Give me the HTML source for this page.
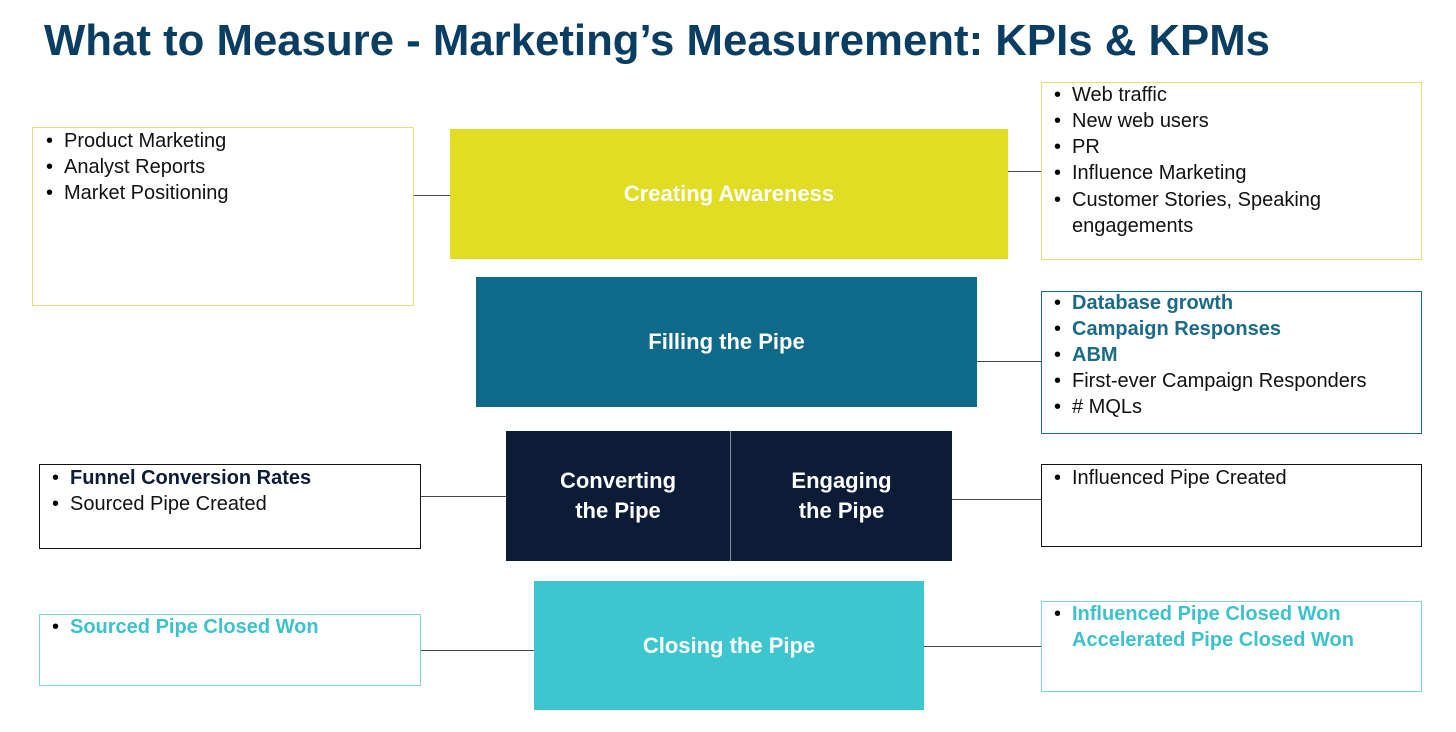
<!DOCTYPE html>
<html><head><meta charset="utf-8"><style>
body{margin:0;width:1456px;height:732px;background:#fff;position:relative;overflow:hidden;font-family:"Liberation Sans",sans-serif}
.a{position:absolute;box-sizing:border-box}
.blk{color:#fff;font-weight:bold;font-size:22px;display:flex;align-items:center;justify-content:center;text-align:center;line-height:30px}
.bx{background:#fff}
.ln{position:absolute;font-size:20px;line-height:26px;white-space:nowrap;color:#111}
.ln b.d{position:absolute;left:-18px;font-weight:normal;color:#000}
.h{position:absolute;height:1px;background:#444}
</style></head><body>
<svg class="a" style="left:0;top:0" width="1456" height="80"><text x="44" y="55" font-family="Liberation Sans" font-weight="bold" font-size="44" fill="#0a3d62" textLength="1226" lengthAdjust="spacingAndGlyphs">What to Measure - Marketing’s Measurement: KPIs &amp; KPMs</text></svg>

<!-- connectors -->
<div class="h" style="left:414px;top:195px;width:36px"></div>
<div class="h" style="left:1008px;top:171px;width:33px"></div>
<div class="h" style="left:977px;top:361px;width:64px"></div>
<div class="h" style="left:421px;top:496px;width:85px"></div>
<div class="h" style="left:952px;top:499px;width:89px"></div>
<div class="h" style="left:421px;top:650px;width:113px"></div>
<div class="h" style="left:924px;top:646px;width:117px"></div>

<!-- blocks -->
<div class="a blk" style="left:450px;top:129px;width:558px;height:130px;background:#e0dd24">Creating Awareness</div>
<div class="a blk" style="left:476px;top:277px;width:501px;height:130px;background:#0f6a8a">Filling the Pipe</div>
<div class="a blk" style="left:506px;top:431px;width:224px;height:130px;background:#0c1c36">Converting<br>the Pipe</div>
<div class="a blk" style="left:730px;top:431px;width:222px;height:130px;background:#0c1c36;border-left:1px solid #889">Engaging<br>the Pipe</div>
<div class="a blk" style="left:534px;top:581px;width:390px;height:129px;background:#3cc6cf">Closing the Pipe</div>

<!-- L1 -->
<div class="a bx" style="left:32px;top:127px;width:382px;height:179px;border:1px solid #e3e07a"></div>
<div class="ln" style="left:64px;top:128px"><b class="d">•</b>Product Marketing</div>
<div class="ln" style="left:64px;top:154px"><b class="d">•</b>Analyst Reports</div>
<div class="ln" style="left:64px;top:180px"><b class="d">•</b>Market Positioning</div>

<!-- R1 -->
<div class="a bx" style="left:1041px;top:82px;width:381px;height:178px;border:1px solid #e3e07a"></div>
<div class="ln" style="left:1072px;top:82px"><b class="d">•</b>Web traffic</div>
<div class="ln" style="left:1072px;top:108px"><b class="d">•</b>New web users</div>
<div class="ln" style="left:1072px;top:134px"><b class="d">•</b>PR</div>
<div class="ln" style="left:1072px;top:160px"><b class="d">•</b>Influence Marketing</div>
<div class="ln" style="left:1072px;top:187px"><b class="d">•</b>Customer Stories, Speaking</div>
<div class="ln" style="left:1072px;top:213px">engagements</div>

<!-- R2 -->
<div class="a bx" style="left:1041px;top:291px;width:381px;height:143px;border:1px solid #1d6a86"></div>
<div class="ln" style="left:1072px;top:290px;color:#1a6b88;font-weight:bold"><b class="d">•</b>Database growth</div>
<div class="ln" style="left:1072px;top:316px;color:#1a6b88;font-weight:bold"><b class="d">•</b>Campaign Responses</div>
<div class="ln" style="left:1072px;top:342px;color:#1a6b88;font-weight:bold"><b class="d">•</b>ABM</div>
<div class="ln" style="left:1072px;top:368px"><b class="d">•</b>First-ever Campaign Responders</div>
<div class="ln" style="left:1072px;top:394px"><b class="d">•</b># MQLs</div>

<!-- L3 -->
<div class="a bx" style="left:39px;top:464px;width:382px;height:85px;border:1px solid #111"></div>
<div class="ln" style="left:70px;top:465px;font-weight:bold;color:#0c1c36"><b class="d">•</b>Funnel Conversion Rates</div>
<div class="ln" style="left:70px;top:491px"><b class="d">•</b>Sourced Pipe Created</div>

<!-- R3 -->
<div class="a bx" style="left:1041px;top:464px;width:381px;height:83px;border:1px solid #111"></div>
<div class="ln" style="left:1072px;top:465px"><b class="d">•</b>Influenced Pipe Created</div>

<!-- L4 -->
<div class="a bx" style="left:39px;top:614px;width:382px;height:72px;border:1px solid #7fd3d8"></div>
<div class="ln" style="left:70px;top:614px;font-weight:bold;color:#3cc2cc"><b class="d">•</b>Sourced Pipe Closed Won</div>

<!-- R4 -->
<div class="a bx" style="left:1041px;top:601px;width:381px;height:91px;border:1px solid #7fd3d8"></div>
<div class="ln" style="left:1072px;top:601px;font-weight:bold;color:#3cc2cc"><b class="d">•</b>Influenced Pipe Closed Won</div>
<div class="ln" style="left:1072px;top:627px;font-weight:bold;color:#3cc2cc">Accelerated Pipe Closed Won</div>
</body></html>
